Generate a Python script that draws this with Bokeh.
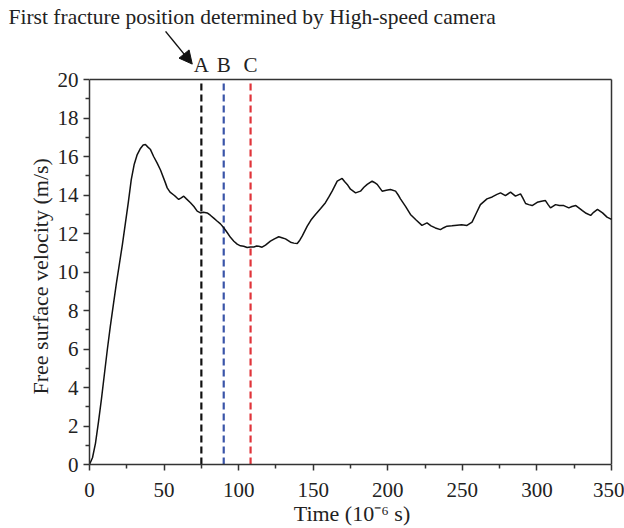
from bokeh.plotting import figure
from bokeh.models import Range1d, Arrow, NormalHead, FixedTicker, Title
from bokeh.core.properties import value
from bokeh.embed import file_html
from bokeh.resources import INLINE

time_us = [0, 2, 4, 6, 8, 10, 12, 14, 16, 18, 20, 22, 24, 26, 28, 30, 32, 34, 36, 37.5, 39,
           40.9, 43, 45.3, 47.6, 50.9, 52.1, 54, 56.5, 58, 59.8, 61.5, 63.2, 65, 67.7, 70, 72.2, 74.4, 76.5,
           78.9, 81, 83.3, 85.5, 87.8, 90, 92.3, 94.5, 96.8, 99, 101.2, 103.4, 105.7, 107.9, 110.2, 112,
           113.5, 115.7, 118, 121.3, 124, 126.9, 129, 131.4, 134.8, 137, 139.3, 141, 142.6, 146, 148.5,
           151.5, 155, 158.2, 160.5, 162.7, 166.1, 169.4, 171, 172.8, 175, 178.4, 181.7, 184, 186.2, 189.5,
           191, 192.9, 196.2, 199, 201.8, 205.2, 207, 208.5, 212, 215.2, 219, 222.9, 226.3, 229, 231.9,
           235.3, 237.5, 239.7, 243, 246.4, 249.5, 253.1, 256.5, 259, 262.1, 266.5, 270, 273.2, 275.6,
           278.9, 282.3, 285.6, 289, 290.5, 292.4, 294.5, 296.8, 300.2, 303, 305.7, 307.5, 309.1, 312.5,
           315, 318, 321.4, 323.5, 326.1, 330.5, 333, 336, 338, 340.6, 344, 347, 350]
velocity = [0, 0.35, 1.1, 2.2, 3.4, 4.7, 6.0, 7.2, 8.3, 9.4, 10.4, 11.4, 12.5, 13.6, 14.8, 15.6, 16.1,
            16.4, 16.6, 16.62, 16.5, 16.36, 16.0, 15.67, 15.3, 14.63, 14.37, 14.15, 14.0, 13.9, 13.77, 13.85,
            13.94, 13.8, 13.6, 13.4, 13.16, 13.07, 13.1, 13.07, 12.95, 12.8, 12.65, 12.5, 12.3, 12.05, 11.8,
            11.6, 11.45, 11.36, 11.34, 11.27, 11.3, 11.3, 11.35, 11.34, 11.29, 11.4, 11.6, 11.72, 11.83, 11.78,
            11.72, 11.55, 11.5, 11.48, 11.65, 11.86, 12.38, 12.7, 12.99, 13.3, 13.6, 13.9, 14.2, 14.72, 14.86,
            14.7, 14.55, 14.3, 14.11, 14.2, 14.4, 14.55, 14.72, 14.65, 14.55, 14.2, 14.25, 14.29, 14.2, 14.0,
            13.8, 13.4, 12.99, 12.7, 12.42, 12.55, 12.4, 12.29, 12.2, 12.3, 12.38, 12.4, 12.43, 12.45, 12.42,
            12.59, 13.0, 13.5, 13.8, 13.9, 14.03, 14.11, 13.97, 14.15, 13.94, 14.06, 13.85, 13.56, 13.5, 13.45,
            13.62, 13.68, 13.71, 13.5, 13.33, 13.5, 13.45, 13.45, 13.33, 13.4, 13.45, 13.19, 13.05, 12.94,
            13.1, 13.25, 13.07, 12.85, 12.73]

marker_names = ["A", "B", "C"]
marker_times = [75, 90, 108]
marker_colors = ["#111111", "#3a55a8", "#e0343a"]

x_ticks = [0, 50, 100, 150, 200, 250, 300, 350]
y_ticks = [0, 2, 4, 6, 8, 10, 12, 14, 16, 18, 20]
x_max = 350
y_max = 20

title_text = "First fracture position determined by High-speed camera"
x_label = "Time (10\u207b\u2076 s)"
y_label = "Free surface velocity (m/s)"

FONT = "Liberation Serif"
AX = "#333333"
TXT = "#222222"

# pixel geometry of the frame
frame_top = 31       # page px where the frame starts (below the title panel)
axis_top = 80        # page px of y = 20
axis_bottom = 465    # page px of y = 0
px_per_y = (axis_bottom - axis_top) / y_max
px_per_x = 522 / x_max
y_end = y_max + (axis_top - frame_top) / px_per_y
x_end = x_max + 3 / px_per_x

p = figure(width=624, height=528, output_backend="svg", toolbar_location=None,
           x_range=Range1d(0, x_end), y_range=Range1d(0, y_end),
           min_border_left=89, min_border_right=10, min_border_top=0, min_border_bottom=63)
p.background_fill_color = "white"
p.border_fill_color = "white"
p.xgrid.visible = False
p.ygrid.visible = False
p.outline_line_color = None

p.title.text = title_text
p.title.align = "left"
p.title.offset = -81
p.title.standoff = 4
p.title.text_font = FONT
p.title.text_font_size = "21.5px"
p.title.text_font_style = "normal"
p.title.text_color = TXT

for ax in (p.xaxis[0], p.yaxis[0]):
    ax.axis_line_color = AX
    ax.axis_line_width = 1.5
    ax.major_tick_line_color = AX
    ax.minor_tick_line_color = AX
    ax.major_tick_line_width = 1.5
    ax.minor_tick_line_width = 1.5
    ax.major_tick_out = 6
    ax.major_tick_in = 0
    ax.minor_tick_out = 4
    ax.minor_tick_in = 0
    ax.major_label_text_font = FONT
    ax.major_label_text_font_size = "21px"
    ax.major_label_text_color = TXT
    ax.axis_label_text_font = FONT
    ax.axis_label_text_font_size = "22px"
    ax.axis_label_text_font_style = "normal"
    ax.axis_label_text_color = TXT

p.xaxis[0].bounds = (0, x_max)
p.yaxis[0].bounds = (0, y_max)
p.xaxis[0].ticker = FixedTicker(ticks=x_ticks, minor_ticks=[v + 25 for v in x_ticks[:-1]])
p.yaxis[0].ticker = FixedTicker(ticks=y_ticks, minor_ticks=[v + 1 for v in y_ticks[:-1]])
p.xaxis[0].axis_label = x_label
p.xaxis[0].major_label_standoff = 12
p.xaxis[0].axis_label_standoff = 1
p.yaxis[0].major_label_standoff = 5

# y-axis title, starting 70 px above the frame bottom (as in the original)
p.add_layout(Title(text=y_label, align="left", offset=70, standoff=4,
                   text_font=FONT, text_font_size="22px", text_font_style="normal",
                   text_color=TXT), "left")

# top and right frame lines of the original box
p.segment(x0=[0, x_max], y0=[y_max, 0], x1=[x_max, x_max], y1=[y_max, y_max],
          line_color=AX, line_width=1.5)

# dashed marker lines and their letters
p.segment(x0=marker_times, y0=[0] * 3, x1=marker_times, y1=[y_max] * 3,
          line_color=marker_colors, line_width=2.2, line_dash="7 4")
p.text(x=marker_times, y=[y_max + 0.15] * 3, text=marker_names, text_align="center",
       text_baseline="bottom", text_font=value(FONT), text_font_size="21px", text_color=TXT)

p.line(time_us, velocity, line_color="#111111", line_width=1.5)

p.add_layout(Arrow(x_start=51.0, y_start=22.5, x_end=68.9, y_end=20.8, line_color="#111111",
                   line_width=1.5,
                   end=NormalHead(size=13, fill_color="#111111", line_color="#111111")))

open("out.html", "w").write(file_html(p, INLINE))
